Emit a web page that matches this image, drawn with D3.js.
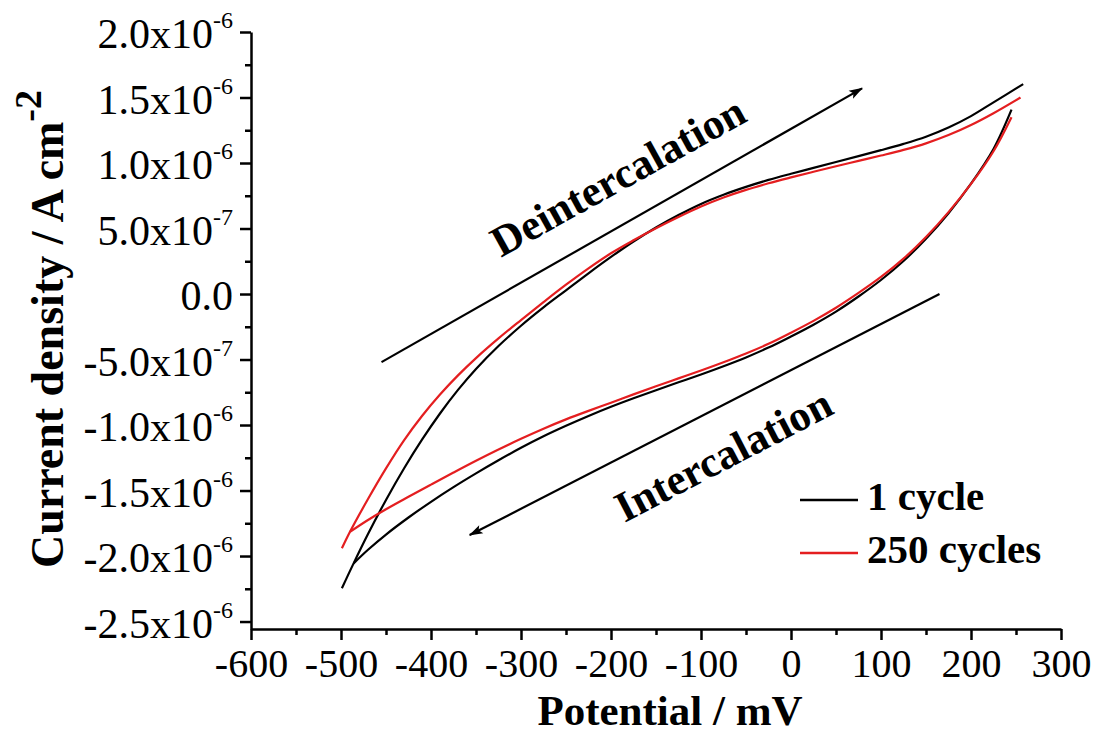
<!DOCTYPE html>
<html>
<head>
<meta charset="utf-8">
<script src="https://cdn.jsdelivr.net/npm/d3@7"></script>
<style>
body { margin: 0; background: #fff; }
text { font-family: "Liberation Serif", "Times New Roman", serif; }
</style>
</head>
<body>
<script>
// potential in mV, current density in units of 1e-6 A cm-2
var xTicks = [-600, -500, -400, -300, -200, -100, 0, 100, 200, 300];
var xTickLabels = ["-600", "-500", "-400", "-300", "-200", "-100", "0", "100", "200", "300"];
var yTicks = [-2.5, -2.0, -1.5, -1.0, -0.5, 0, 0.5, 1.0, 1.5, 2.0];
var yTickMant = ["-2.5x10", "-2.0x10", "-1.5x10", "-1.0x10", "-5.0x10", "0.0", "5.0x10", "1.0x10", "1.5x10", "2.0x10"];
var yTickExp = ["-6", "-6", "-6", "-6", "-7", "", "-7", "-6", "-6", "-6"];

var seriesNames = ["1 cycle", "250 cycles"];
var seriesColors = ["#000000", "#e41e20"];

// 1 cycle, forward (anodic) sweep
var c1FwdV = [-499, -486, -470, -450, -430, -410, -390, -370, -350, -325, -300, -275, -250, -225, -200, -175, -150, -125, -100, -75, -50, -25, 0, 25, 50, 75, 100, 125, 150, 175, 200, 225, 258];
var c1FwdJ = [-2.246, -2.056, -1.832, -1.572, -1.332, -1.112, -0.912, -0.732, -0.572, -0.397, -0.242, -0.102, 0.028, 0.158, 0.283, 0.401, 0.508, 0.603, 0.688, 0.758, 0.818, 0.871, 0.918, 0.963, 1.008, 1.053, 1.098, 1.146, 1.201, 1.271, 1.358, 1.463, 1.602];
// 1 cycle, reverse (cathodic) sweep
var c1RevV = [245, 225, 200, 175, 150, 125, 100, 75, 50, 25, 0, -25, -50, -75, -100, -125, -150, -175, -200, -225, -250, -275, -300, -325, -350, -375, -400, -425, -450, -470, -486];
var c1RevJ = [1.407, 1.107, 0.842, 0.617, 0.422, 0.252, 0.107, -0.019, -0.134, -0.234, -0.324, -0.409, -0.484, -0.551, -0.614, -0.674, -0.734, -0.796, -0.861, -0.931, -1.006, -1.086, -1.174, -1.269, -1.369, -1.474, -1.586, -1.706, -1.836, -1.952, -2.056];

// 250 cycles, forward sweep
var c250FwdV = [-499, -490, -470, -450, -430, -410, -390, -370, -350, -325, -300, -275, -250, -225, -200, -175, -150, -125, -100, -75, -50, -25, 0, 25, 50, 75, 100, 125, 150, 175, 200, 225, 255];
var c250FwdJ = [-1.941, -1.815, -1.565, -1.331, -1.117, -0.931, -0.767, -0.621, -0.489, -0.339, -0.199, -0.062, 0.071, 0.196, 0.311, 0.41, 0.502, 0.588, 0.668, 0.737, 0.795, 0.845, 0.89, 0.933, 0.975, 1.016, 1.057, 1.10, 1.15, 1.213, 1.29, 1.38, 1.50];
// 250 cycles, reverse sweep
var c250RevV = [245, 225, 200, 175, 150, 125, 100, 75, 50, 25, 0, -25, -50, -75, -100, -125, -150, -175, -200, -225, -250, -275, -300, -325, -350, -375, -400, -425, -450, -470, -490];
var c250RevJ = [1.35, 1.09, 0.84, 0.625, 0.435, 0.27, 0.13, 0.008, -0.105, -0.205, -0.295, -0.38, -0.454, -0.521, -0.584, -0.644, -0.704, -0.766, -0.83, -0.892, -0.957, -1.028, -1.105, -1.187, -1.273, -1.363, -1.455, -1.548, -1.643, -1.725, -1.815];

// annotation arrows [from, to] in data units
var deintArrow = [[-455, -0.52], [79, 1.57]];
var intArrow = [[165, 0.0], [-357, -1.84]];

var width = 1095, height = 734;

var svg = d3.select("body").append("svg")
	.attr("width", width)
	.attr("height", height);

var x = d3.scaleLinear().domain([-600, 300]).range([251, 1061]);
var y = d3.scaleLinear().domain([-2.557, 2.0]).range([629, 32]);

// minor ticks
svg.append("g")
	.attr("transform", "translate(0," + 629 + ")")
	.call(d3.axisBottom(x).tickValues(d3.range(-550, 300, 100)).tickSize(6).tickFormat(""))
	.call(g => g.select(".domain").remove())
	.selectAll("line").attr("stroke-width", 2.5);

svg.append("g")
	.attr("transform", "translate(251,0)")
	.call(d3.axisLeft(y).tickValues(d3.range(-2.25, 2.0, 0.5)).tickSize(6).tickFormat(""))
	.call(g => g.select(".domain").remove())
	.selectAll("line").attr("stroke-width", 2.5);

// main axes
var xg = svg.append("g")
	.attr("transform", "translate(0," + 629 + ")")
	.call(d3.axisBottom(x).tickValues(xTicks).tickSize(11).tickSizeOuter(0).tickPadding(9)
		.tickFormat((d, i) => xTickLabels[i]));
xg.select(".domain").attr("stroke-width", 2.5);
xg.selectAll("line").attr("stroke-width", 2.5);
xg.selectAll("text").attr("font-size", 40).attr("font-family", "Liberation Serif").attr("fill", "#000");

var yg = svg.append("g")
	.attr("transform", "translate(251,0)")
	.call(d3.axisLeft(y).tickValues(yTicks).tickSize(11).tickSizeOuter(0).tickPadding(7));
yg.select(".domain").attr("stroke-width", 2.5);
yg.selectAll("line").attr("stroke-width", 2.5);
yg.selectAll(".tick text").each(function(d, i) {
	var t = d3.select(this)
		.text(null)
		.attr("dy", "0.38em")
		.attr("font-size", 42)
		.attr("font-family", "Liberation Serif")
		.attr("fill", "#000");
	t.append("tspan").text(yTickMant[i]);
	if (yTickExp[i]) {
		t.append("tspan").attr("dy", -20).attr("font-size", 24).text(yTickExp[i]);
	}
});

// axis titles
svg.append("text")
	.attr("x", 670)
	.attr("y", 724.5)
	.attr("text-anchor", "middle")
	.attr("font-size", 43)
	.attr("font-weight", "bold")
	.text("Potential / mV");

var yt = svg.append("text")
	.attr("transform", "translate(63,568) rotate(-90)")
	.attr("font-size", 46)
	.attr("font-weight", "bold");
yt.append("tspan").text("Current density / A cm");
yt.append("tspan").attr("dy", -22).attr("font-size", 38).text("-2");

// curves
var line = d3.line()
	.x(d => x(d[0]))
	.y(d => y(d[1]))
	.curve(d3.curveCatmullRom);

var branches = [
	[d3.zip(c1FwdV, c1FwdJ), d3.zip(c1RevV, c1RevJ)],
	[d3.zip(c250FwdV, c250FwdJ), d3.zip(c250RevV, c250RevJ)]
];

branches.forEach(function(b, i) {
	b.forEach(function(pts) {
		svg.append("path")
			.datum(pts)
			.attr("fill", "none")
			.attr("stroke", seriesColors[i])
			.attr("stroke-width", 2.2)
			.attr("d", line);
	});
});

// arrows
svg.append("defs").append("marker")
	.attr("id", "head")
	.attr("viewBox", "0 -5 14 10")
	.attr("refX", 13)
	.attr("refY", 0)
	.attr("markerUnits", "userSpaceOnUse")
	.attr("markerWidth", 15)
	.attr("markerHeight", 10)
	.attr("orient", "auto")
	.append("path")
	.attr("d", "M0,-4.5L14,0L0,4.5L3,0Z")
	.attr("fill", "#000");

[deintArrow, intArrow].forEach(function(a) {
	svg.append("line")
		.attr("x1", x(a[0][0]))
		.attr("y1", y(a[0][1]))
		.attr("x2", x(a[1][0]))
		.attr("y2", y(a[1][1]))
		.attr("stroke", "#000")
		.attr("stroke-width", 2.2)
		.attr("marker-end", "url(#head)");
});

svg.append("text")
	.attr("transform", "translate(625,189) rotate(-29)")
	.attr("text-anchor", "middle")
	.attr("font-size", 43)
	.attr("font-weight", "bold")
	.text("Deintercalation");

svg.append("text")
	.attr("transform", "translate(730,468) rotate(-27.5)")
	.attr("text-anchor", "middle")
	.attr("font-size", 43)
	.attr("font-weight", "bold")
	.text("Intercalation");

// legend
seriesNames.forEach(function(n, i) {
	var ly = 500 + i * 53;
	svg.append("line")
		.attr("x1", 800).attr("x2", 858)
		.attr("y1", ly).attr("y2", ly)
		.attr("stroke", seriesColors[i])
		.attr("stroke-width", 2.5);
	svg.append("text")
		.attr("x", 867)
		.attr("y", ly + 10)
		.attr("font-size", 41)
		.attr("font-weight", "bold")
		.text(n);
});
</script>
</body>
</html>
